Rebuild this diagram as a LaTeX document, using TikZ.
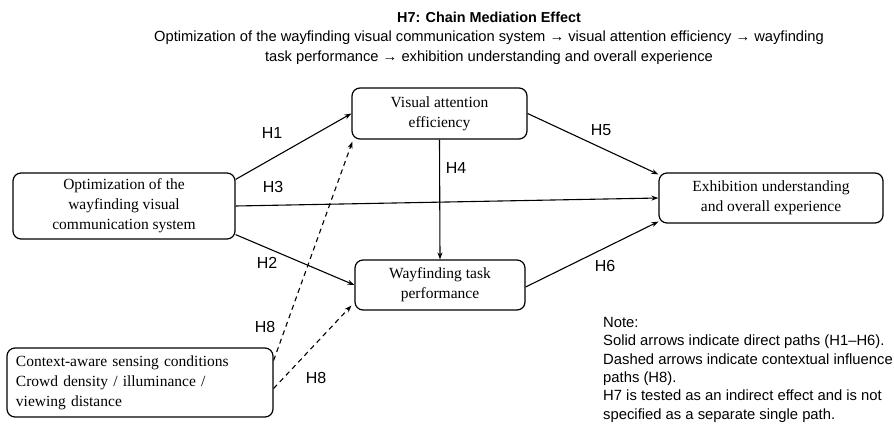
\documentclass[tikz,border=0pt]{standalone}
\usepackage{fontspec}
\setmainfont{Liberation Serif}
\newfontfamily\labelfont{Liberation Sans}
\usetikzlibrary{arrows.meta}
\begin{document}
\begin{tikzpicture}[x=1pt,y=-1pt,
  box/.style={draw,line width=1.2pt,rounded corners=8pt,align=center,inner sep=2pt,font=\fontsize{15.5}{20}\selectfont},
  arr/.style={line width=1.1pt,-{Stealth[length=7pt,width=5pt]}},
  darr/.style={arr,dash pattern=on 5pt off 4pt},
  hlab/.style={font=\labelfont\fontsize{16}{18}\selectfont},
  note/.style={font=\labelfont\fontsize{14.8}{18.4}\selectfont,align=left,anchor=north west,inner sep=0pt}]
\useasboundingbox (0,0) rectangle (894,423);
\node[font=\labelfont\bfseries\fontsize{14.4}{16}\selectfont] (title) at (489,17) {H7: Chain Mediation Effect};
\node[font=\labelfont\fontsize{14.7}{20}\selectfont,align=center] (sub) at (489,48) {Optimization of the wayfinding visual communication system \textrightarrow{} visual attention efficiency \textrightarrow{} wayfinding\\task performance \textrightarrow{} exhibition understanding and overall experience};
\node[box,minimum width=222pt,minimum height=66pt] (opt) at (124,206) {Optimization of the\\wayfinding visual\\communication system};
\node[box,minimum width=175pt,minimum height=51pt] (va) at (439.5,113.5) {Visual attention\\efficiency};
\node[box,minimum width=170pt,minimum height=50pt] (wt) at (440,285) {Wayfinding task\\performance};
\node[box,minimum width=224pt,minimum height=50pt] (exh) at (771,198) {Exhibition understanding\\and overall experience};
\node[box,minimum width=266pt,minimum height=69pt,align=left,text width=248pt] (ctx) at (140,382.5) {Context-aware sensing conditions\\Crowd density / illuminance /\\viewing distance};
\draw[arr] ([yshift=-7pt]opt.north east) -- (va.west);
\draw[arr] (opt.east) -- (exh.west);
\draw[arr] ([yshift=5pt]opt.south east) -- (wt.west);
\draw[arr] (va.south) -- (wt.north);
\draw[arr] (va.east) -- ([yshift=-2pt]exh.north west);
\draw[arr] ([yshift=-2pt]wt.east) -- ([yshift=2pt]exh.south west);
\draw[darr] ([yshift=22pt]ctx.east) -- ([xshift=1pt,yshift=-2pt]va.south west);
\draw[darr] ([yshift=-6pt]ctx.east) -- ([xshift=-3pt,yshift=5pt]wt.south west);
\node[hlab] (h1) at (272,133) {H1};
\node[hlab] (h3) at (273,187) {H3};
\node[hlab] (h2) at (267,263) {H2};
\node[hlab] (h4) at (456,168) {H4};
\node[hlab] (h5) at (601,130) {H5};
\node[hlab] (h6) at (605,266) {H6};
\node[hlab] (h8a) at (265,327) {H8};
\node[hlab] (h8b) at (316,378) {H8};
\node[note] (nt) at (603,317) {Note:\\Solid arrows indicate direct paths (H1\textendash H6).\\Dashed arrows indicate contextual influence\\paths (H8).\\H7 is tested as an indirect effect and is not\\specified as a separate single path.};
\end{tikzpicture}
\end{document}
